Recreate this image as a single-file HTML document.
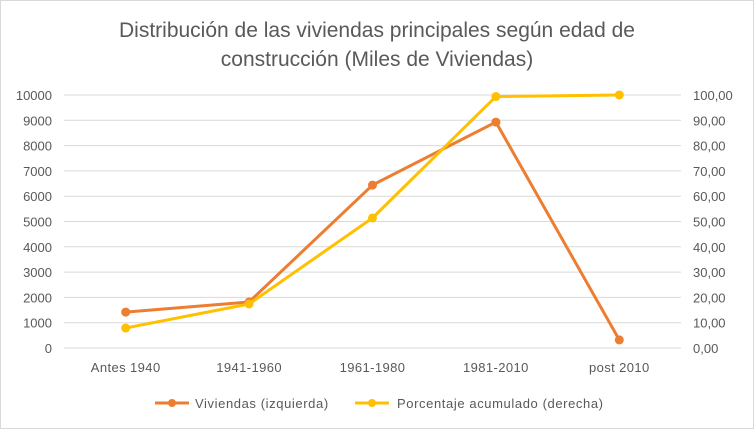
<!DOCTYPE html>
<html><head><meta charset="utf-8"><style>
body{margin:0;background:#fff;}
svg{display:block;font-family:"Liberation Sans",sans-serif;}
</style></head><body>
<svg id="chart" width="754" height="429">
<rect x="0.5" y="0.5" width="753" height="428" fill="#fff" stroke="#d9d9d9"/>
<text x="377" y="37" text-anchor="middle" font-size="21" fill="#595959">Distribución de las viviendas principales según edad de</text>
<text x="377" y="66" text-anchor="middle" font-size="21" fill="#595959">construcción (Miles de Viviendas)</text>
<g id="grid"></g><g id="axes"></g><g id="series"></g>
<g>
<g>
<line x1="155" y1="403" x2="189" y2="403" stroke="#ed7d31" stroke-width="3"/><circle cx="172" cy="403" r="4" fill="#ed7d31"/>
<text x="195" y="408" font-size="13" letter-spacing="0.6" fill="#595959">Viviendas (izquierda)</text></g>
<g>
<line x1="355" y1="403" x2="389" y2="403" stroke="#ffc000" stroke-width="3"/><circle cx="372" cy="403" r="4" fill="#ffc000"/>
<text x="397" y="408" font-size="13" letter-spacing="0.6" fill="#595959">Porcentaje acumulado (derecha)</text></g>
</g>
</svg>
<script>
const categories=["Antes 1940","1941-1960","1961-1980","1981-2010","post 2010"];
const viviendas=[1420,1820,6440,8930,320];
const porcentaje=[7.9,17.4,51.4,99.4,100];
const leftTicks=[0,1000,2000,3000,4000,5000,6000,7000,8000,9000,10000];
const rightTicks=["0,00","10,00","20,00","30,00","40,00","50,00","60,00","70,00","80,00","90,00","100,00"];
const NS="http://www.w3.org/2000/svg";
const x0=64,x1=681,yB=348,yT=95;
const xs=i=>x0+(x1-x0)*(i+0.5)/categories.length;
const yl=v=>yB-(yB-yT)*v/10000;
const yr=v=>yB-(yB-yT)*v/100;
function mk(tag,attrs,parent){const e=document.createElementNS(NS,tag);for(const k in attrs)e.setAttribute(k,attrs[k]);parent.appendChild(e);return e;}
const grid=document.getElementById('grid'),axes=document.getElementById('axes'),ser=document.getElementById('series');
leftTicks.forEach((t,i)=>{
 const y=yl(t);
 const g=mk('line',{x1:x0,x2:x1,y1:y,y2:y,stroke:'#d9d9d9','stroke-width':1},grid);
 
 
 const a=mk('text',{x:52,y:y+5,'text-anchor':'end','font-size':13,fill:'#595959'},axes);a.textContent=t;
 
 
 const b=mk('text',{x:693,y:y+5,'font-size':13,fill:'#595959'},axes);b.textContent=rightTicks[i];
 
 
});
categories.forEach((c,i)=>{
 const t=mk('text',{x:xs(i),y:372,'text-anchor':'middle','font-size':13,'letter-spacing':0.4,fill:'#595959'},axes);t.textContent=c;
 
 
});
function series(vals,yf,color,name){
 const p=mk('polyline',{points:vals.map((v,i)=>xs(i)+','+yf(v)).join(' '),fill:'none',stroke:color,'stroke-width':3,'stroke-linejoin':'round'},ser);
 
 
 vals.forEach((v,i)=>{const c=mk('circle',{cx:xs(i),cy:yf(v),r:4.5,fill:color},ser);
 
 });
}
series(viviendas,yl,'#ed7d31','viviendas');
series(porcentaje,yr,'#ffc000','porcentaje');
</script>
</body></html>
